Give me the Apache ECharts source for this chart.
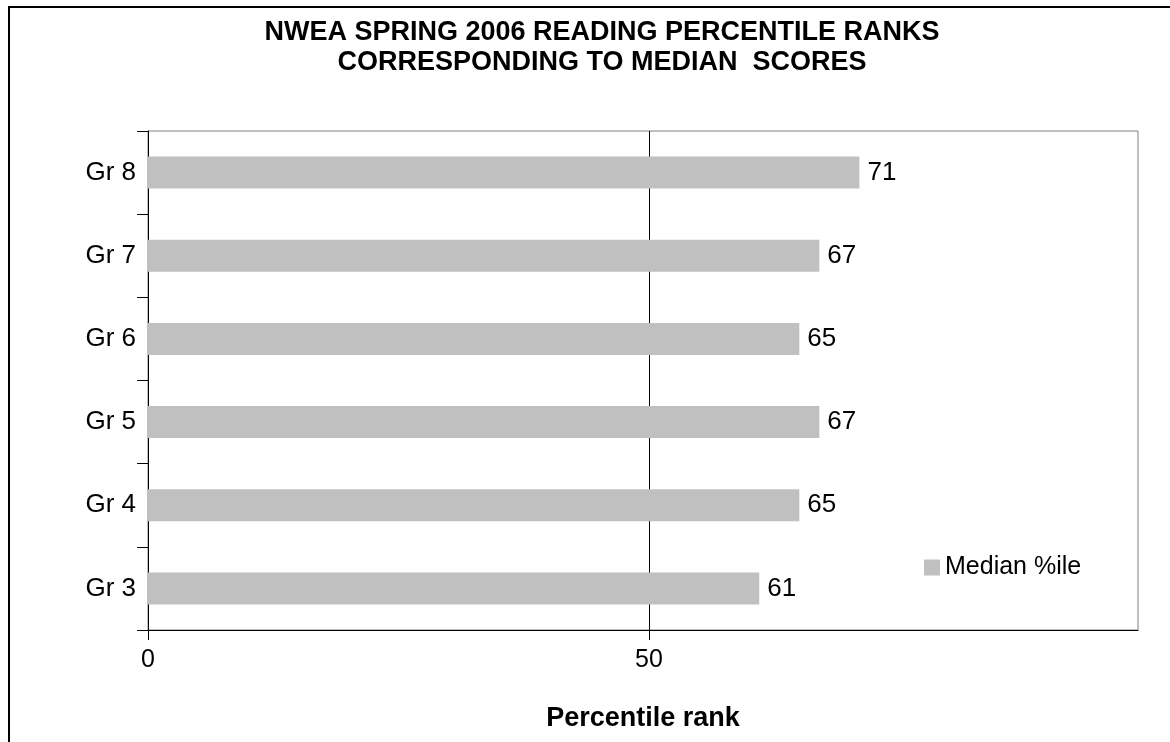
<!DOCTYPE html>
<html>
<head>
<meta charset="utf-8">
<script src="https://cdn.jsdelivr.net/npm/echarts@6/dist/echarts.min.js"></script>
<style>
  html, body { margin: 0; padding: 0; background: #fff; }
  #chart { width: 1170px; height: 742px; }
</style>
</head>
<body>
<div id="chart"></div>
<script>
  // grades bottom -> top
  var grades = ['Gr 3', 'Gr 4', 'Gr 5', 'Gr 6', 'Gr 7', 'Gr 8'];
  var medianPct = [61, 65, 67, 65, 67, 71];
  var xTicks = [0, 50];

  var myChart = echarts.init(document.getElementById('chart'));
  var font = 'Liberation Sans, Arial, sans-serif';

  var option = {
    backgroundColor: '#fff',
    animation: false,
    textStyle: {fontFamily: font, color: '#000'},
    title: {
      text: 'NWEA SPRING 2006 READING PERCENTILE RANKS\nCORRESPONDING TO MEDIAN  SCORES',
      left: 597,
      top: 13,
      textAlign: 'center',
      textStyle: {fontFamily: font, fontSize: 27, fontWeight: 'bold', lineHeight: 30, color: '#000'}
    },
    graphic: [{
      type: 'rect',
      shape: {x: 9, y: 7, width: 1300, height: 1000},
      style: {fill: 'none', stroke: '#000', lineWidth: 2},
      silent: true
    }],
    legend: {
      data: ['Median %ile'],
      left: 919,
      top: 550,
      icon: 'rect',
      itemWidth: 16,
      itemHeight: 16,
      itemGap: 6,
      textStyle: {fontFamily: font, fontSize: 25, color: '#000'}
    },
    grid: {
      left: 148,
      right: 32,
      top: 131,
      bottom: 112,
      show: true,
      borderColor: '#808080',
      borderWidth: 1,
      containLabel: false
    },
    xAxis: {
      type: 'value',
      min: 0,
      max: 98.8,
      interval: 50,
      name: 'Percentile rank',
      nameLocation: 'middle',
      nameGap: 75,
      nameTextStyle: {fontFamily: font, fontSize: 27, fontWeight: 'bold', color: '#000'},
      axisLine: {show: true, lineStyle: {color: '#000', width: 1}},
      axisTick: {show: true, length: 10, customValues: xTicks, lineStyle: {color: '#000'}},
      axisLabel: {customValues: xTicks, fontSize: 25, color: '#000', margin: 18, fontFamily: font},
      splitLine: {show: true, lineStyle: {color: ['#000', '#000', '#808080'], width: 1}}
    },
    yAxis: {
      type: 'category',
      data: grades,
      axisLine: {show: true, lineStyle: {color: '#000', width: 1}},
      axisTick: {show: true, length: 11, alignWithLabel: false, lineStyle: {color: '#000'}},
      axisLabel: {fontSize: 26, color: '#000', margin: 12, fontFamily: font},
      splitLine: {show: false}
    },
    series: [{
      name: 'Median %ile',
      type: 'bar',
      data: medianPct,
      barWidth: 32,
      itemStyle: {color: '#c0c0c0'},
      label: {
        show: true,
        position: 'right',
        distance: 8,
        fontSize: 26,
        color: '#000',
        fontFamily: font
      }
    }]
  };
  myChart.setOption(option);
</script>
</body>
</html>
